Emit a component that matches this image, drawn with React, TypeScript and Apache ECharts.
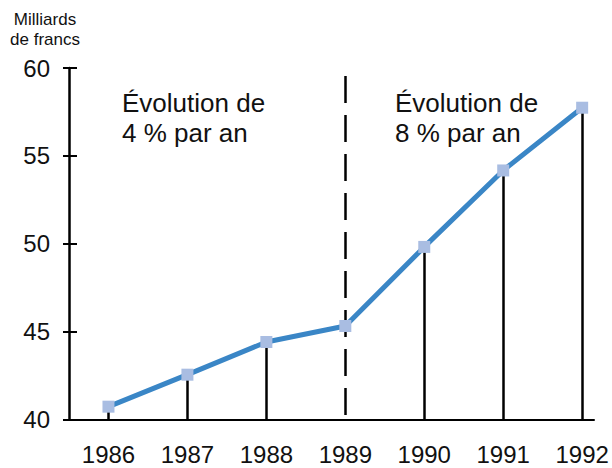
import React, { useEffect, useRef } from "react";
import * as echarts from "echarts";

const years = [1986, 1987, 1988, 1989, 1990, 1991, 1992];
const values = [40.73, 42.55, 44.41, 45.32, 49.82, 54.17, 57.74];
const yTicks = [40, 45, 50, 55, 60];
const breakYear = 1989;
const breakTop = 59.55;
const unitLabel = "Milliards\nde francs";
const noteLeft = "Évolution de\n4 % par an";
const noteRight = "Évolution de\n8 % par an";

const FONT = "'Liberation Sans', Arial, Helvetica, sans-serif";

export default function App() {
  const ref = useRef<HTMLDivElement>(null);
  useEffect(() => {
    if (!ref.current) return;
    const chart = echarts.init(ref.current, undefined, { renderer: "svg" });
    const pts = years.map((y, i) => [y, values[i]]);
    const dropLines = years
      .map((y, i) => ({ y, v: values[i] }))
      .filter((d) => d.y !== breakYear)
      .map((d) => [
        { coord: [d.y, yTicks[0]] },
        { coord: [d.y, d.v] },
      ]);
    chart.setOption({
      animation: false,
      grid: { left: 69, right: 18, top: 68, bottom: 48.5, containLabel: false },
      xAxis: {
        type: "value",
        min: 1985.5,
        max: 1992.15,
        interval: 0.5,
        axisLine: { show: true, lineStyle: { color: "#000", width: 2 } },
        axisTick: { show: false },
        splitLine: { show: false },
        axisLabel: {
          color: "#111",
          fontSize: 24,
          fontFamily: FONT,
          margin: 23,
          formatter: (v: number) =>
            Number.isInteger(v) && years.includes(v) ? String(v) : "",
        },
      },
      yAxis: [
        {
          type: "value",
          min: yTicks[0],
          max: yTicks[yTicks.length - 1],
          interval: 5,
          axisLine: { show: true, lineStyle: { color: "#000", width: 2.5 } },
          axisTick: { show: true, length: 6, lineStyle: { color: "#000", width: 2 } },
          splitLine: { show: false },
          axisLabel: { color: "#111", fontSize: 24, fontFamily: FONT, margin: 19 },
        },
        {
          type: "value",
          position: "left",
          min: yTicks[0],
          max: yTicks[yTicks.length - 1],
          interval: 5,
          axisLine: { show: false },
          axisTick: { show: true, inside: true, length: 8, lineStyle: { color: "#000", width: 2 } },
          splitLine: { show: false },
          axisLabel: { show: false },
        },
      ],
      series: [
        {
          type: "line",
          data: pts,
          z: 2,
          symbol: "none",
          lineStyle: { width: 0, opacity: 0 },
          silent: true,
          markLine: {
            silent: true,
            symbol: "none",
            label: { show: false },
            lineStyle: { color: "#000", width: 2.5, type: "solid" },
            data: [
              ...dropLines,
              [
                {
                  coord: [breakYear, breakTop],
                  lineStyle: { color: "#000", width: 2.5, type: [27, 12] },
                },
                { coord: [breakYear, yTicks[0]] },
              ],
            ],
          },
        },
        {
          type: "line",
          data: pts,
          z: 5,
          symbol: "rect",
          symbolSize: 12,
          itemStyle: { color: "#a9bde2" },
          lineStyle: { color: "#3a86c6", width: 5 },
        },
      ],
      graphic: [
        {
          type: "text",
          x: 45,
          y: 9,
          style: {
            text: unitLabel,
            font: `17px ${FONT}`,
            fill: "#111",
            align: "center",
            verticalAlign: "top",
            lineHeight: 20,
          },
        },
        {
          type: "text",
          x: 122,
          y: 88,
          style: {
            text: noteLeft,
            font: `26px ${FONT}`,
            fill: "#111",
            align: "left",
            verticalAlign: "top",
            lineHeight: 30,
          },
        },
        {
          type: "text",
          x: 395,
          y: 88,
          style: {
            text: noteRight,
            font: `26px ${FONT}`,
            fill: "#111",
            align: "left",
            verticalAlign: "top",
            lineHeight: 30,
          },
        },
      ],
    });
    return () => chart.dispose();
  }, []);
  return <div ref={ref} style={{ width: 612, height: 468, position: "absolute", left: 0, top: 0 }} />;
}
